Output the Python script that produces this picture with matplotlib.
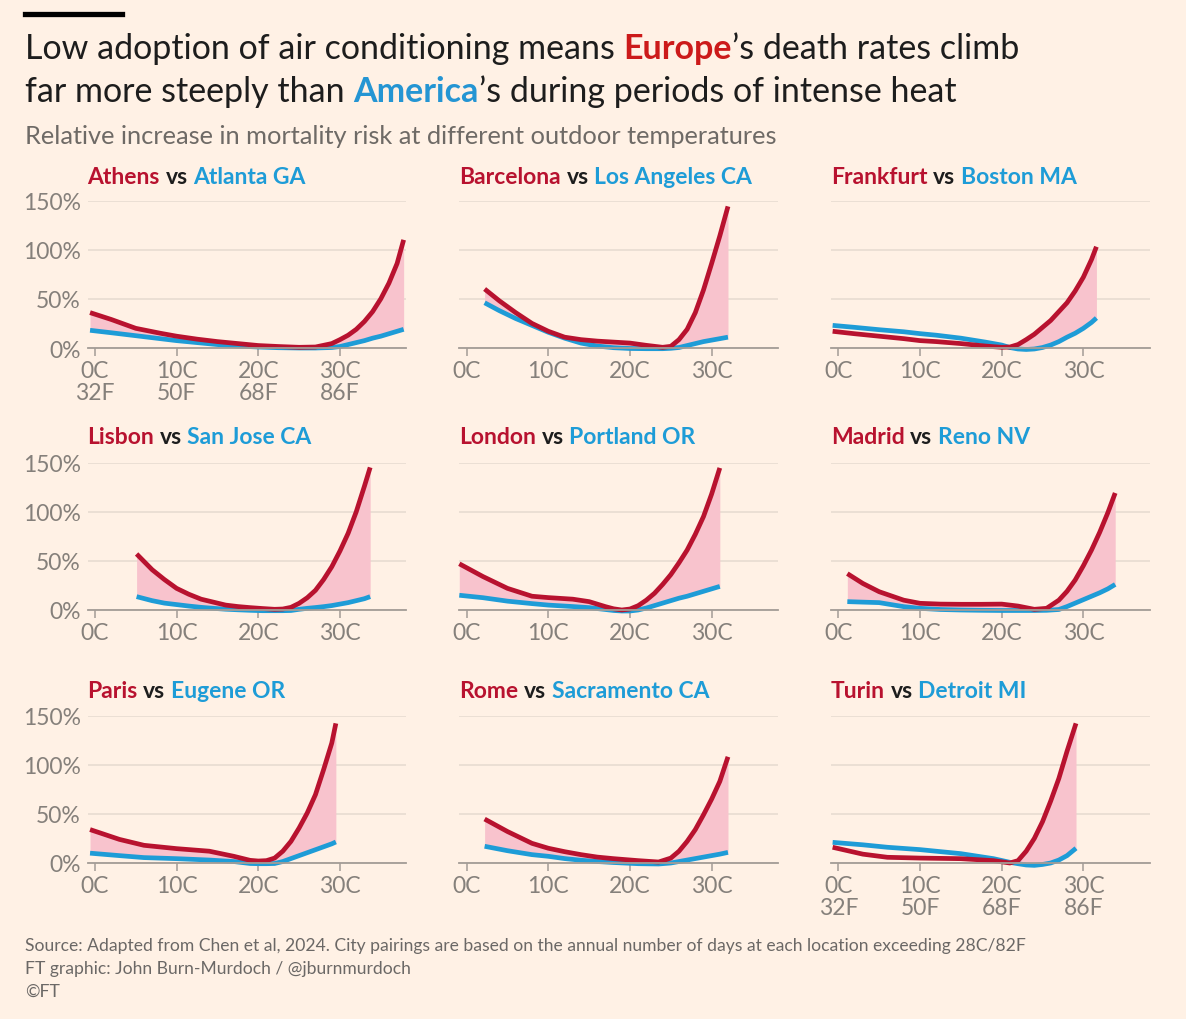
import matplotlib
matplotlib.use("Agg")
import matplotlib.pyplot as plt

# --- data (temperature in C, relative mortality increase in %) ---
athens_t = [-0.6, 2, 5, 8, 10, 12.5, 15, 17.5, 20, 22.5, 25, 27, 29, 30, 31, 32, 33, 34, 35, 36, 37, 37.8]
athens = [36, 29, 20, 15, 12, 9, 6.5, 4.5, 2.5, 1.5, 0.7, 1, 4.5, 8.5, 13, 19, 27, 37, 50, 66, 86, 110]
atlanta = [18, 15.5, 12.5, 9.5, 7.5, 5.5, 3.5, 2, 1, 0.3, 0, 0, 0.5, 1.5, 3.5, 5.5, 7.5, 10, 12, 14.5, 17, 19]

barcelona_t = [2.2, 4, 6, 8, 10, 12, 14, 16, 18, 20, 22, 24, 25, 26, 27, 28, 29, 30, 31, 32]
barcelona = [60, 48, 36, 25, 17, 11, 8.5, 7, 6, 5, 2.7, 0.7, 1.7, 8.5, 19, 36, 59, 86, 114, 144]
los_angeles = [46, 38, 30, 23, 16, 10, 5, 2, 0.3, -0.5, -0.7, -0.7, -0.3, 0.5, 2.5, 4.5, 6.5, 8, 9.5, 11]

frankfurt_t = [-0.7, 2, 5, 8, 10, 12, 15, 18, 20, 21, 22, 23, 24, 25, 26, 27, 28, 29, 30, 31, 31.6]
frankfurt = [17, 14.5, 12, 9.5, 7.5, 6.5, 4.5, 2, 0.7, 1, 3.5, 8.5, 14, 21, 28, 37, 46, 58, 72, 90, 103]
boston = [23, 21, 18.6, 16.5, 14.6, 13, 10, 6, 3, 0.5, -1, -1.5, -1, 0.5, 3, 6.5, 11, 15, 20, 26, 30.5]

lisbon_t = [5.1, 7, 8.5, 10, 11.5, 13, 14.5, 16, 17.5, 19, 20.5, 22, 23, 24, 25, 26, 27, 28, 29, 30, 31, 32, 33, 33.7]
lisbon = [57, 41, 31, 22, 16, 11, 8, 5, 3.5, 2.4, 1.5, 0.7, 1, 2.7, 6.8, 12.5, 20, 31, 44, 60, 78, 100, 126, 145]
san_jose = [13.6, 9.5, 7, 5.5, 4, 2.7, 1.7, 0.8, 0.2, -0.3, -0.7, -0.7, -0.7, -0.5, 0.7, 1.7, 2.5, 3.4, 4.5, 6, 7.5, 9.5, 11.5, 13.6]

london_t = [-0.9, 2, 5, 8, 10, 13, 15, 17, 18, 19, 20, 21, 22, 23, 24, 25, 26, 27, 28, 29, 30, 31]
london = [47, 34, 22, 14, 12.6, 11, 8.5, 3.4, 1.2, 0, 1, 4.4, 10, 17, 26, 36, 48, 61, 77, 95, 118, 144.5]
portland = [15, 12.5, 9, 6.5, 5, 3.5, 2.4, 0.5, -0.5, -1, -1, 0, 2, 4.5, 7, 9.5, 12, 14, 16.5, 19, 21.5, 24]

madrid_t = [1.1, 3, 5, 8, 10, 12.5, 15, 17.5, 20, 22, 24, 25.5, 27, 28, 29, 30, 31, 32, 33, 33.9]
madrid = [37, 27, 18.6, 10, 6.8, 6, 5.8, 5.8, 6, 4, 0.7, 1.7, 10, 19, 30.5, 45, 61, 79, 99, 119]
reno = [8.5, 8, 7.5, 3.4, 1.7, 0.5, 0, -0.3, -0.5, -0.5, -0.5, -0.3, 0.5, 3.5, 7, 10.5, 14, 17.5, 21.5, 26]

paris_t = [-0.6, 3, 6, 10, 14, 17, 19, 20, 21, 22, 23, 24, 25, 26, 27, 28, 29, 29.5]
paris = [34, 24, 18, 14.6, 12, 6.8, 2.7, 2, 2.4, 5, 12, 22, 35.6, 51, 69.5, 95, 122, 142]
eugene = [10, 7.5, 5.5, 4.4, 3, 1.5, -0.5, -0.7, -0.7, -0.5, 1.5, 4.5, 7.5, 10.5, 13.5, 16.5, 19.5, 21.4]

rome_t = [2.2, 5, 8, 10, 12, 14, 16, 18, 21, 23.5, 25, 26, 27, 28, 29, 30, 31, 32]
rome = [44.7, 32, 20, 15, 11.5, 8.5, 6, 4.4, 2.4, 1, 5, 12, 22, 34, 49, 65, 83, 108]
sacramento = [17, 12.5, 8.5, 6.8, 4.5, 2.8, 1.5, 0.5, -0.7, -1, 0, 1.5, 3, 4.5, 6, 7.5, 9, 10.8]

turin_t = [-0.7, 3, 6, 10, 15, 19, 21, 22, 23, 24, 25, 26, 27, 28, 29.1]
turin = [16, 9, 5.8, 5, 4.4, 2.4, 0, 2.4, 12, 25, 42, 63, 86, 113.6, 142]
detroit = [21, 18.5, 16, 13.6, 9.5, 4.4, 0.7, -0.7, -2, -2.4, -1.5, 0, 3, 7.5, 15]

panels = [
    ("Athens", "Atlanta GA", athens_t, athens, atlanta),
    ("Barcelona", "Los Angeles CA", barcelona_t, barcelona, los_angeles),
    ("Frankfurt", "Boston MA", frankfurt_t, frankfurt, boston),
    ("Lisbon", "San Jose CA", lisbon_t, lisbon, san_jose),
    ("London", "Portland OR", london_t, london, portland),
    ("Madrid", "Reno NV", madrid_t, madrid, reno),
    ("Paris", "Eugene OR", paris_t, paris, eugene),
    ("Rome", "Sacramento CA", rome_t, rome, sacramento),
    ("Turin", "Detroit MI", turin_t, turin, detroit),
]

x_ticks = [0, 10, 20, 30]
c_labels = ["0C", "10C", "20C", "30C"]
cf_labels = ["0C\n32F", "10C\n50F", "20C\n68F", "30C\n86F"]
y_ticks = [0, 50, 100, 150]
y_labels = ["0%", "50%", "100%", "150%"]

BG = "#FFF1E5"
RED = "#B8122F"
BLUE = "#1E9CD7"
PINK = "#F8C3CD"
DARK = "#1d1d1d"
GREY = "#85807b"
FONT = "Lato"

W, H = 1186, 1020
fig = plt.figure(figsize=(W / 100, H / 100), dpi=100)
fig.patch.set_facecolor(BG)
renderer = fig.canvas.get_renderer()


def fx(px):
    return px / W


def fy(py):
    return 1 - py / H


def space_width(size, weight):
    a = fig.text(0, 0, "n n", fontsize=size, fontweight=weight, family=FONT)
    b = fig.text(0, 0, "nn", fontsize=size, fontweight=weight, family=FONT)
    w = a.get_window_extent(renderer).width - b.get_window_extent(renderer).width
    a.remove()
    b.remove()
    return w


def rich_text(x, y, pieces, size):
    # pieces: (text, colour, weight, space after)
    for text, color, weight, gap in pieces:
        t = fig.text(fx(x), fy(y), text, color=color, fontsize=size, fontweight=weight,
                     family=FONT, va="center", ha="left")
        x += t.get_window_extent(renderer).width
        if gap:
            x += space_width(size, weight)


# header
fig.add_artist(plt.Line2D([fx(25), fx(122)], [fy(14.5), fy(14.5)], color="black", lw=3.8))
rich_text(25, 49, [("Low adoption of air conditioning means", DARK, "normal", True),
                   ("Europe", "#CC1A1A", "bold", False),
                   ("\u2019s death rates climb", DARK, "normal", False)], 24.5)
rich_text(25, 92, [("far more steeply than", DARK, "normal", True),
                   ("America", "#2495D3", "bold", False),
                   ("\u2019s during periods of intense heat", DARK, "normal", False)], 24.5)
fig.text(fx(25), fy(136), "Relative increase in mortality risk at different outdoor temperatures",
         fontsize=18.3, color="#6e6a66", family=FONT, va="center")

col_left = [87.6, 459.3, 831.0]
row_base = [349, 611, 864]
row_title = [177, 438, 692]
ax_w = 318.5
ax_h = 147.5

for i, (eu, us, t, eu_vals, us_vals) in enumerate(panels):
    r, c = divmod(i, 3)
    ax = fig.add_axes([fx(col_left[c]), fy(row_base[r]), ax_w / W, ax_h / H])
    ax.set_facecolor(BG)
    ax.set_xlim(-0.9, 38.1)
    ax.set_ylim(0, 150)
    for s in ["top", "right", "left"]:
        ax.spines[s].set_visible(False)
    ax.spines["bottom"].set_color("#a39c96")
    ax.spines["bottom"].set_linewidth(1.3)
    ax.set_yticks(y_ticks)
    ax.yaxis.grid(True, color="#E6DACF", lw=1.1)
    ax.set_axisbelow(True)
    ax.tick_params(axis="y", length=0, pad=5, labelsize=16.5, labelcolor=GREY)
    if c == 0:
        ax.set_yticklabels(y_labels, family=FONT)
    else:
        ax.set_yticklabels([])
    ax.set_xticks(x_ticks)
    labels = cf_labels if (r, c) in [(0, 0), (2, 2)] else c_labels
    ax.set_xticklabels(labels, family=FONT, linespacing=1.05)
    ax.tick_params(axis="x", length=6, width=1.1, color="#a39c96", pad=3,
                   labelsize=16.5, labelcolor=GREY)

    ax.fill_between(t, eu_vals, us_vals, where=[a >= b for a, b in zip(eu_vals, us_vals)],
                    interpolate=True, color=PINK, lw=0, clip_on=False)
    ax.plot(t, us_vals, color=BLUE, lw=3.4, solid_capstyle="butt", solid_joinstyle="round", clip_on=False)
    ax.plot(t, eu_vals, color=RED, lw=3.4, solid_capstyle="butt", solid_joinstyle="round", clip_on=False)

    rich_text(col_left[c], row_title[r], [(eu, RED, "bold", True), ("vs", DARK, "bold", True),
                                          (us, BLUE, "bold", False)], 16.5)

# footer
footer = ["Source: Adapted from Chen et al, 2024. City pairings are based on the annual number of days at each location exceeding 28C/82F",
          "FT graphic: John Burn-Murdoch / @jburnmurdoch",
          "\u00a9FT"]
for k, line in enumerate(footer):
    fig.text(fx(25), fy(946 + 23 * k), line, fontsize=12.6, color="#6b6866", family=FONT, va="center")

fig.savefig("out.png", dpi=100, facecolor=BG)
